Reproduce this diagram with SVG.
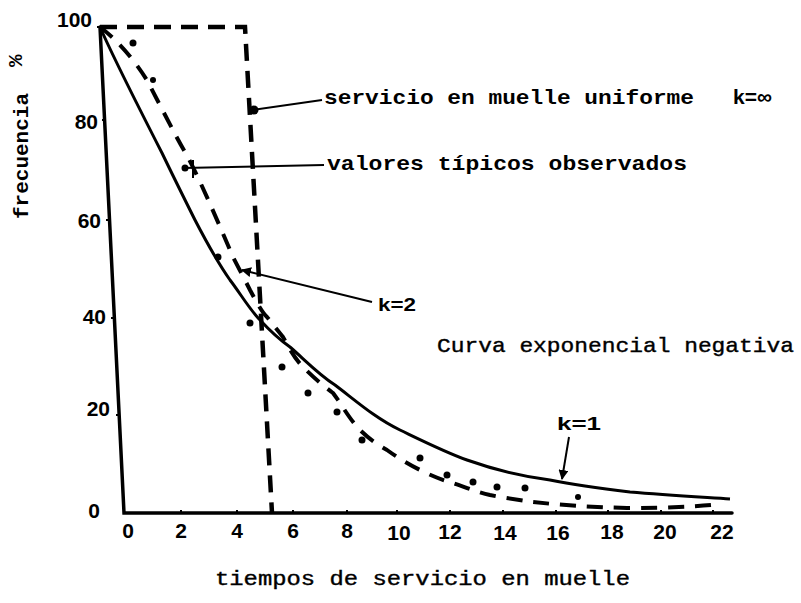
<svg xmlns="http://www.w3.org/2000/svg" width="801" height="603" viewBox="0 0 801 603">
<defs>
<style>
.ax{stroke:#000;stroke-width:3.5;fill:none;stroke-linecap:round}
.exp{stroke:#000;stroke-width:3;fill:none}
.uni{stroke:#000;stroke-width:4.5;fill:none;stroke-dasharray:17 10}
.k2{stroke:#000;stroke-width:4;fill:none;stroke-dasharray:16 11}
.ld{stroke:#000;stroke-width:2;fill:none}
.num{font-family:"Liberation Sans",Arial,sans-serif;font-weight:bold;font-size:21px;fill:#000}
.tw{font-family:"Liberation Mono","Courier New",monospace;font-size:21px;fill:#000;stroke:#000;stroke-width:0.4}
.twb{font-family:"Liberation Mono","Courier New",monospace;font-weight:bold;font-size:21px;fill:#000}
.kl{font-family:"Liberation Sans",Arial,sans-serif;font-weight:bold;font-size:19px;fill:#000}
.dot{fill:#000}
</style>
<marker id="ah" viewBox="0 0 10 10" refX="9" refY="5" markerWidth="5" markerHeight="5" orient="auto">
<path d="M0,0 L10,5 L0,10 z" fill="#000"/>
</marker>
</defs>
<rect width="801" height="603" fill="#fff"/>
<g id="axes">
<path class="ax" d="M100,27 L124,513 L732,513"/>
<g class="ld">
<path d="M100,27 h-3 M105,120 h-3 M109,220 h-3 M114,318 h-3 M119,415 h-3"/>
<path d="M181,513 v-3 M237,513 v-3 M293,513 v-3 M347,513 v-3 M397,513 v-3 M450,513 v-3 M503,513 v-3 M556,513 v-3 M608,513 v-3 M661,513 v-3 M713,513 v-3"/>
</g>
</g>
<g id="y-labels">
<text class="num" x="92" y="27" text-anchor="end" font-size="22">100</text>
<text class="num" x="98" y="129" text-anchor="end">80</text>
<text class="num" x="101" y="228" text-anchor="end">60</text>
<text class="num" x="106" y="324" text-anchor="end">40</text>
<text class="num" x="110" y="416" text-anchor="end">20</text>
<text class="num" x="100" y="518" text-anchor="end">0</text>
</g>
<g id="x-labels" class="num" text-anchor="middle">
<text x="128" y="538">0</text>
<text x="181" y="538">2</text>
<text x="237" y="538">4</text>
<text x="293" y="538">6</text>
<text x="347" y="538">8</text>
<text x="399" y="540">10</text>
<text x="450" y="539">12</text>
<text x="505" y="540">14</text>
<text x="558" y="540">16</text>
<text x="612" y="539">18</text>
<text x="665" y="539">20</text>
<text x="722" y="539">22</text>
</g>
<g id="y-title">
<text class="twb" transform="translate(28,219) rotate(-90)" textLength="126" lengthAdjust="spacingAndGlyphs">frecuencia</text>
<text class="twb" transform="translate(22,67) rotate(-90)" font-size="13">%</text>
</g>
<g id="x-title">
<text class="tw" x="215" y="585" textLength="415" lengthAdjust="spacingAndGlyphs">tiempos de servicio en muelle</text>
</g>
<g id="curve-uniform">
<path class="uni" d="M100,27 H245 L272,513"/>
</g>
<g id="curve-exponential">
<path class="exp" d="M100,27 C110,50 140,110 162,153 C175,180 185,200 195,220 C208,245 218,263 230,280 C240,293 250,310 260,320 C272,333 280,340 290,347 C305,360 318,374 335,385 C355,400 375,418 400,430 C425,442 445,452 467,460 C495,470 520,476 550,480 C580,486 605,489 630,492 C665,495 700,497 730,499"/>
</g>
<g id="curve-k2">
<path class="k2" d="M100,27 C115,38 135,60 148,82 C160,105 175,135 185,152 C198,175 218,222 233,257 C238,267 245,280 250,290 C257,303 262,312 267,317 C275,327 280,333 283,337 C290,350 296,360 303,367 C312,376 322,385 333,393 C342,405 350,420 360,430 C368,438 378,445 387,450 C398,458 410,465 420,470 C432,476 442,480 453,483 C465,487 477,492 490,495 C505,498 520,500 533,502 C560,505 590,507 627,508 C660,508 690,507 712,505"/>
</g>
<g id="observed-points">
<circle class="dot" cx="133" cy="43" r="3.5"/>
<circle class="dot" cx="153" cy="80" r="3"/>
<circle class="dot" cx="218" cy="257" r="3.5"/>
<circle class="dot" cx="250" cy="323" r="3.5"/>
<circle class="dot" cx="282" cy="367" r="3.5"/>
<circle class="dot" cx="308" cy="393" r="3.5"/>
<circle class="dot" cx="337" cy="412" r="3.5"/>
<circle class="dot" cx="362" cy="440" r="3.5"/>
<circle class="dot" cx="420" cy="458" r="3.5"/>
<circle class="dot" cx="447" cy="475" r="3.5"/>
<circle class="dot" cx="473" cy="482" r="3.5"/>
<circle class="dot" cx="497" cy="487" r="3.5"/>
<circle class="dot" cx="525" cy="488" r="3.5"/>
<circle class="dot" cx="578" cy="497" r="3"/>
</g>
<g id="connectors">
<path class="ld" d="M322,100 L253,110"/>
<circle class="dot" cx="254" cy="110" r="4.5"/>
<path class="ld" d="M324,165 L183,168"/>
<circle class="dot" cx="185" cy="168" r="3.5"/>
<path class="ld" d="M193,160 V178" stroke-width="3"/>
<path class="ld" d="M372,302 L242,270" marker-end="url(#ah)"/>
<path class="ld" d="M569,437 L562,479" stroke-width="3" marker-end="url(#ah)"/>
</g>
<g id="labels">
<text class="twb" x="324" y="104" textLength="370" lengthAdjust="spacingAndGlyphs">servicio en muelle uniforme</text>
<text class="num" x="733" y="104" font-size="19">k=∞</text>
<text class="twb" x="327" y="170" textLength="360" lengthAdjust="spacingAndGlyphs">valores típicos observados</text>
<text class="kl" x="378" y="311" textLength="38" lengthAdjust="spacingAndGlyphs">k=2</text>
<text class="tw" x="437" y="352" textLength="357" lengthAdjust="spacingAndGlyphs">Curva exponencial negativa</text>
<text class="kl" x="557" y="430" textLength="44" lengthAdjust="spacingAndGlyphs">k=1</text>
</g>
</svg>
